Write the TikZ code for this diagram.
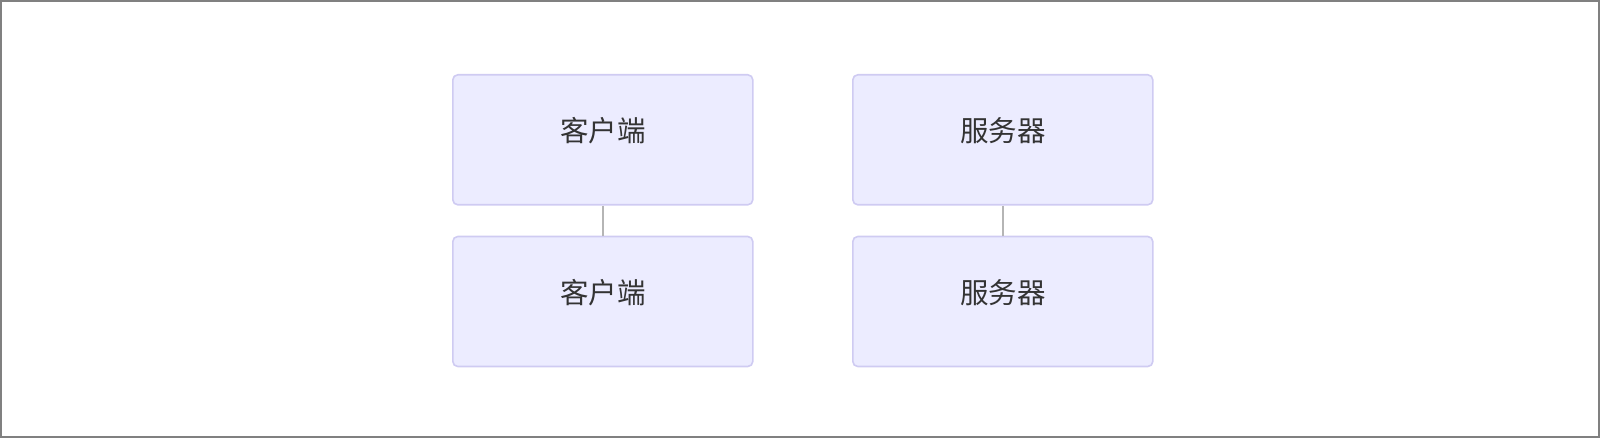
\documentclass[tikz,border=0pt]{standalone}
\usepackage{fontspec}
\newfontfamily\cjk{Noto Sans CJK SC}
\definecolor{boxfill}{HTML}{ECECFF}
\definecolor{boxline}{HTML}{CFCBF2}
\definecolor{linkline}{HTML}{B5B5B5}
\definecolor{frameline}{HTML}{808080}
\definecolor{txt}{HTML}{333333}
\begin{document}
\begin{tikzpicture}[x=1pt,y=-1pt,
  box/.style={draw=boxline, fill=boxfill, line width=1.6pt, rounded corners=5pt,
    minimum width=300pt, minimum height=130pt, inner sep=0pt, anchor=north west},
  lbl/.style={font=\cjk\fontsize{28.5}{34}\selectfont, text=txt, inner sep=0pt},
  link/.style={draw=linkline, line width=1.5pt}]
\useasboundingbox (0,0) rectangle (1600,438);
\draw[frameline, line width=2.2pt] (1.2,1.2) rectangle (1598.8,436.8);
\node[box] (c1) at (452,74) {};
\node[box] (c2) at (452,235.7) {};
\node[box] (s1) at (852,74) {};
\node[box] (s2) at (852,235.7) {};
\node[lbl] (c1t) at ([yshift=9pt]c1.center) {客户端};
\node[lbl] (c2t) at ([yshift=9pt]c2.center) {客户端};
\node[lbl] (s1t) at ([yshift=9pt]s1.center) {服务器};
\node[lbl] (s2t) at ([yshift=9pt]s2.center) {服务器};
\draw[link] (c1.south) -- (c2.north);
\draw[link] (s1.south) -- (s2.north);
\end{tikzpicture}
\end{document}
